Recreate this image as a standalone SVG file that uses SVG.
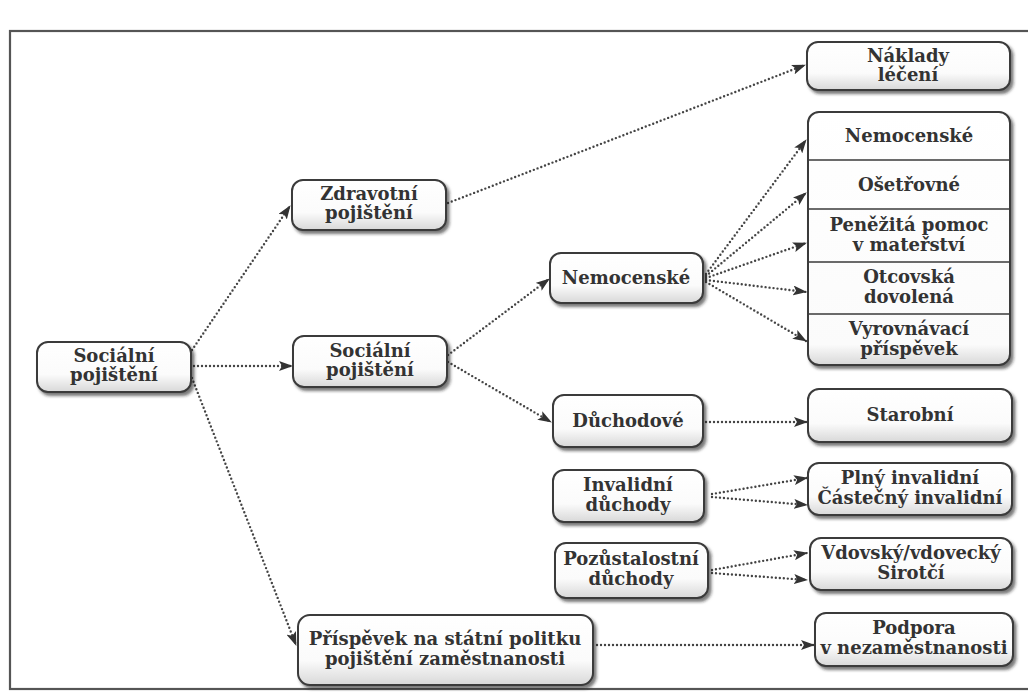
<svg xmlns="http://www.w3.org/2000/svg" width="1028" height="698" viewBox="0 0 1028 698">
<style>
.box{fill:url(#g);stroke:#3a3a3a;stroke-width:2;filter:url(#sh)}
.bigbox{fill:url(#g2);stroke:#3a3a3a;stroke-width:2;filter:url(#sh)}
.t{font-family:"DejaVu Serif","Liberation Serif",serif;font-weight:bold;font-size:18px;fill:#333;text-anchor:middle}
.c{fill:none;stroke:#444;stroke-width:2.4;stroke-linecap:round;stroke-dasharray:0 4;marker-end:url(#a)}
.div{stroke:#3a3a3a;stroke-width:1.5}
</style>
<defs>
<linearGradient id="g" x1="0" y1="0" x2="0" y2="1">
<stop offset="0" stop-color="#ffffff"/>
<stop offset="0.65" stop-color="#fbfbfb"/>
<stop offset="1" stop-color="#d8d8d8"/>
</linearGradient>
<linearGradient id="g2" x1="0" y1="0" x2="0" y2="1">
<stop offset="0" stop-color="#ffffff"/>
<stop offset="0.92" stop-color="#fbfbfb"/>
<stop offset="1" stop-color="#d8d8d8"/>
</linearGradient>
<filter id="sh" x="-10%" y="-10%" width="120%" height="130%">
<feDropShadow dx="2.5" dy="3" stdDeviation="1.8" flood-color="#222" flood-opacity="0.6"/>
</filter>
<marker id="a" markerUnits="userSpaceOnUse" markerWidth="14" markerHeight="10" refX="13" refY="5" orient="auto">
<path d="M0,0 L14,5 L0,10 L3,5 Z" fill="#333"/>
</marker>
</defs>
<rect width="1028" height="698" fill="#ffffff"/>
<rect x="10" y="31" width="1030" height="658" fill="none" stroke="#555" stroke-width="2.2"/>

<g id="connectors">
<path class="c" d="M192,350 L290,206"/>
<path class="c" d="M194,366 L292,366"/>
<path class="c" d="M192,378 L296,645"/>
<path class="c" d="M448,203 L805,65"/>
<path class="c" d="M448,355 L549,279"/>
<path class="c" d="M448,362 L551,422"/>
<path class="c" d="M706,274 L806,140"/>
<path class="c" d="M706,276 L806,193"/>
<path class="c" d="M706,278 L806,243"/>
<path class="c" d="M706,280 L806,292"/>
<path class="c" d="M706,282 L806,341"/>
<path class="c" d="M706,422 L807,422"/>
<path class="c" d="M712,494 L807,478"/>
<path class="c" d="M712,497 L807,505"/>
<path class="c" d="M712,570 L807,553"/>
<path class="c" d="M712,573 L807,580"/>
<path class="c" d="M597,645 L814,645"/>
</g>

<g id="socialni-pojisteni">
<rect class="box" x="37" y="342" width="154" height="50" rx="11"/>
<text class="t" x="114" y="362">Sociální</text>
<text class="t" x="114" y="381">pojištění</text>
</g>
<g id="zdravotni-pojisteni">
<rect class="box" x="292" y="180" width="154" height="50" rx="11"/>
<text class="t" x="369" y="200">Zdravotní</text>
<text class="t" x="369" y="219">pojištění</text>
</g>
<g id="socialni-pojisteni-2">
<rect class="box" x="293" y="336" width="154" height="51" rx="11"/>
<text class="t" x="370" y="357">Sociální</text>
<text class="t" x="370" y="376">pojištění</text>
</g>
<g id="prispevek">
<rect class="box" x="298" y="615" width="295" height="70" rx="12"/>
<text class="t" x="445" y="645">Příspěvek na státní politku</text>
<text class="t" x="445" y="665">pojištění zaměstnanosti</text>
</g>
<g id="nemocenske">
<rect class="box" x="550" y="253" width="153" height="50" rx="11"/>
<text class="t" x="626" y="284">Nemocenské</text>
</g>
<g id="duchodove">
<rect class="box" x="553" y="395" width="150" height="52" rx="11"/>
<text class="t" x="628" y="427">Důchodové</text>
</g>
<g id="invalidni-duchody">
<rect class="box" x="553" y="470" width="151" height="52" rx="11"/>
<text class="t" x="628" y="491">Invalidní</text>
<text class="t" x="628" y="511">důchody</text>
</g>
<g id="pozustalostni-duchody">
<rect class="box" x="555" y="543" width="153" height="55" rx="11"/>
<text class="t" x="631" y="565">Pozůstalostní</text>
<text class="t" x="631" y="585">důchody</text>
</g>
<g id="naklady-leceni">
<rect class="box" x="807" y="42" width="203" height="48" rx="11"/>
<text class="t" x="908" y="62">Náklady</text>
<text class="t" x="908" y="81">léčení</text>
</g>
<g id="nemocenske-davky">
<rect class="bigbox" x="808" y="112" width="202" height="253" rx="11"/>
<line class="div" x1="809" y1="160" x2="1009" y2="160"/>
<line class="div" x1="809" y1="209" x2="1009" y2="209"/>
<line class="div" x1="809" y1="262" x2="1009" y2="262"/>
<line class="div" x1="809" y1="314" x2="1009" y2="314"/>
<text class="t" x="909" y="142">Nemocenské</text>
<text class="t" x="909" y="191">Ošetřovné</text>
<text class="t" x="909" y="231">Peněžitá pomoc</text>
<text class="t" x="909" y="251">v mateřství</text>
<text class="t" x="909" y="283">Otcovská</text>
<text class="t" x="909" y="303">dovolená</text>
<text class="t" x="909" y="335">Vyrovnávací</text>
<text class="t" x="909" y="355">příspěvek</text>
</g>
<g id="starobni">
<rect class="box" x="808" y="389" width="204" height="53" rx="11"/>
<text class="t" x="910" y="421">Starobní</text>
</g>
<g id="invalidni-druhy">
<rect class="box" x="808" y="463" width="204" height="52" rx="11"/>
<text class="t" x="910" y="484">Plný invalidní</text>
<text class="t" x="910" y="504">Částečný invalidní</text>
</g>
<g id="pozustalostni-druhy">
<rect class="box" x="810" y="538" width="202" height="52" rx="11"/>
<text class="t" x="911" y="559">Vdovský/vdovecký</text>
<text class="t" x="911" y="579">Sirotčí</text>
</g>
<g id="podpora">
<rect class="box" x="815" y="613" width="198" height="53" rx="11"/>
<text class="t" x="914" y="634">Podpora</text>
<text class="t" x="914" y="654">v nezaměstnanosti</text>
</g>
</svg>
